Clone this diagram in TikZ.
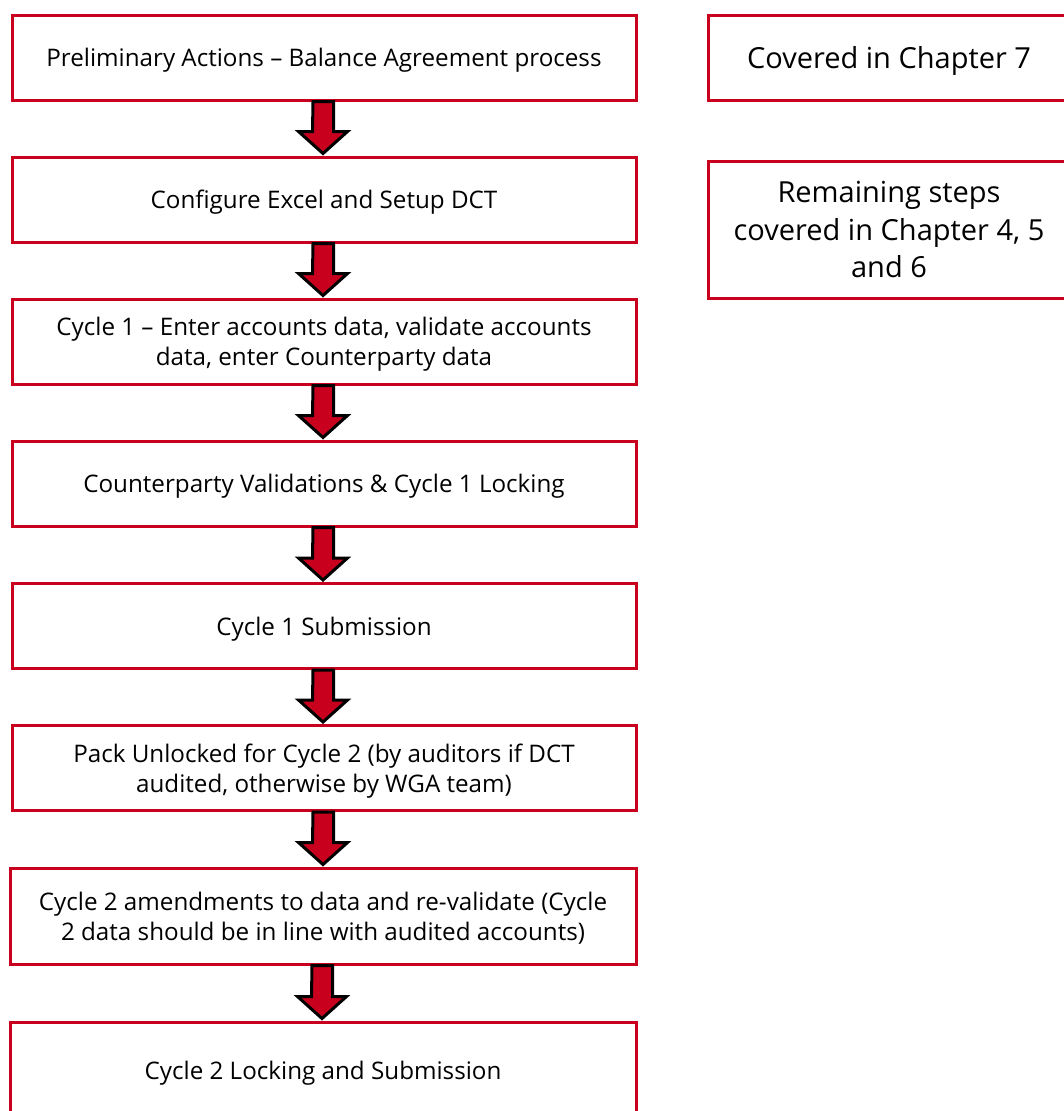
\documentclass[tikz,border=0pt]{standalone}
\usepackage{fontspec}
\setmainfont{Open Sans}
\usetikzlibrary{calc}
\definecolor{boxred}{RGB}{200,0,30}
\tikzset{
  stepbox/.style={draw=boxred, line width=3pt, rectangle, minimum width=624pt, minimum height=85pt, align=center, font=\fontsize{24.2}{30}\selectfont, inner sep=0pt, text depth=0pt},
  notebox/.style={draw=boxred, line width=3pt, rectangle, minimum width=362pt, align=center, font=\fontsize{29}{37.5}\selectfont, inner sep=0pt, text depth=0pt},
  blockarrow/.style={draw=black, fill=boxred, line width=3pt, line join=miter}
}
\begin{document}
\begin{tikzpicture}[x=1pt,y=-1pt]
\useasboundingbox (0,0) rectangle (1063,1111);
\node[stepbox] (b1) at (324,57.5) {Preliminary Actions – Balance Agreement process};
\node[stepbox] (b2) at (324,199.5) {Configure Excel and Setup DCT};
\node[stepbox] (b3) at (324,341.5) {Cycle 1 – Enter accounts data, validate accounts\\data, enter Counterparty data};
\node[stepbox] (b4) at (324,483.5) {Counterparty Validations \& Cycle 1 Locking};
\node[stepbox] (b5) at (324,626) {Cycle 1 Submission};
\node[stepbox] (b6) at (324,768) {Pack Unlocked for Cycle 2 (by auditors if DCT\\audited, otherwise by WGA team)};
\node[stepbox, minimum width=626pt, minimum height=96pt] (b7) at (323,916) {Cycle 2 amendments to data and re-validate (Cycle\\2 data should be in line with audited accounts)};
\node[stepbox, minimum width=626pt, minimum height=96pt] (b8) at (323,1070) {Cycle 2 Locking and Submission};
\node[notebox, minimum height=85pt] (r1) at (889,57.5) {Covered in Chapter 7};
\node[notebox, minimum height=137pt] (r2) at (889,229.5) {Remaining steps\\covered in Chapter 4, 5\\and 6};
\foreach \a/\b in {b1/b2,b2/b3,b3/b4,b4/b5,b5/b6,b6/b7,b7/b8}{
  \path[blockarrow] let \p1=(\a.south), \p2=(\b.north) in
    (\x1-11pt,\y1) -- (\x1+9.5pt,\y1) -- (\x1+9.5pt,\y2+24pt) -- (\x1+23.5pt,\y2+24pt)
    -- (\x1-1pt,\y2+2pt) -- (\x1-25.5pt,\y2+24pt) -- (\x1-11.5pt,\y2+24pt) -- cycle;
}
\end{tikzpicture}
\end{document}
